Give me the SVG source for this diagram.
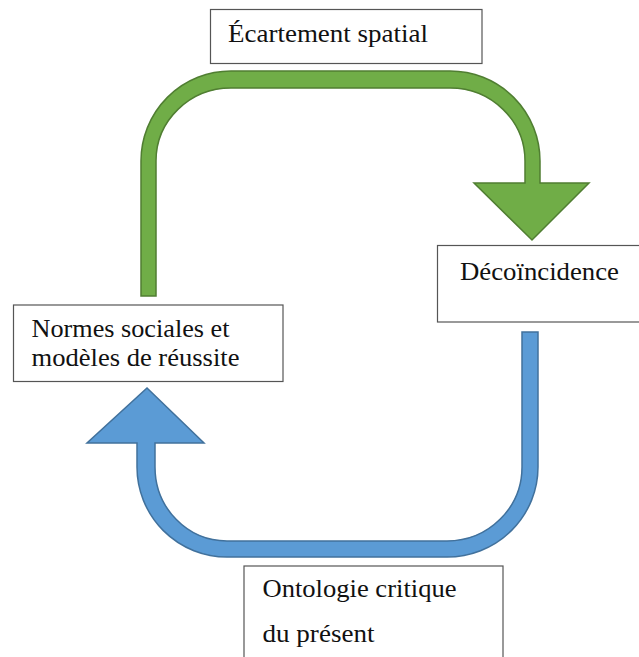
<svg xmlns="http://www.w3.org/2000/svg" width="639" height="657" viewBox="0 0 639 657">
<style>
.box{fill:#fff;stroke:#555;stroke-width:1.2}
.t{font-family:"Liberation Serif","Times New Roman",serif;font-size:26px;fill:#111}
.green{fill:#70ad47;stroke:#507e32;stroke-width:1.5;stroke-linejoin:miter}
.blue{fill:#5b9bd5;stroke:#41719c;stroke-width:1.5;stroke-linejoin:miter}
</style>
<rect width="639" height="657" fill="#fff"/>
<g id="connectors">
<path class="green" d="M141,296 L141,161 A90,90 0 0 1 231,71 L450,71 A90,90 0 0 1 540,161 L540,183 L589,183 L532,240 L474,183 L525,183 L525,161 A75,73 0 0 0 450,88 L231,88 A75,73 0 0 0 156,161 L156,296 Z"/>
<path class="blue" d="M522,332 L538,332 L538,467 A91,90 0 0 1 447,557 L227,557 A90,90 0 0 1 137,467 L137,443 L87,443 L147,388 L204,443 L155,443 L155,467 A72,74 0 0 0 227,541 L447,541 A75,74 0 0 0 522,467 Z"/>
</g>
<g id="ecartement">
<rect class="box" x="210.5" y="9.5" width="271.5" height="54"/>
<text class="t" x="228" y="42" textLength="200" lengthAdjust="spacingAndGlyphs">Écartement spatial</text>
</g>
<g id="decoincidence">
<rect class="box" x="437.5" y="245.5" width="210" height="76.5"/>
<text class="t" x="460" y="280" textLength="159" lengthAdjust="spacingAndGlyphs">Décoïncidence</text>
</g>
<g id="normes">
<rect class="box" x="13.5" y="305" width="269.5" height="76.5"/>
<text class="t" x="31.5" y="337" textLength="198" lengthAdjust="spacingAndGlyphs">Normes sociales et</text>
<text class="t" x="31.5" y="366" textLength="208" lengthAdjust="spacingAndGlyphs">modèles de réussite</text>
</g>
<g id="ontologie">
<rect class="box" x="244" y="566" width="259" height="110"/>
<text class="t" x="262.5" y="597" textLength="194" lengthAdjust="spacingAndGlyphs">Ontologie critique</text>
<text class="t" x="262.5" y="642" textLength="112" lengthAdjust="spacingAndGlyphs">du présent</text>
</g>
</svg>
